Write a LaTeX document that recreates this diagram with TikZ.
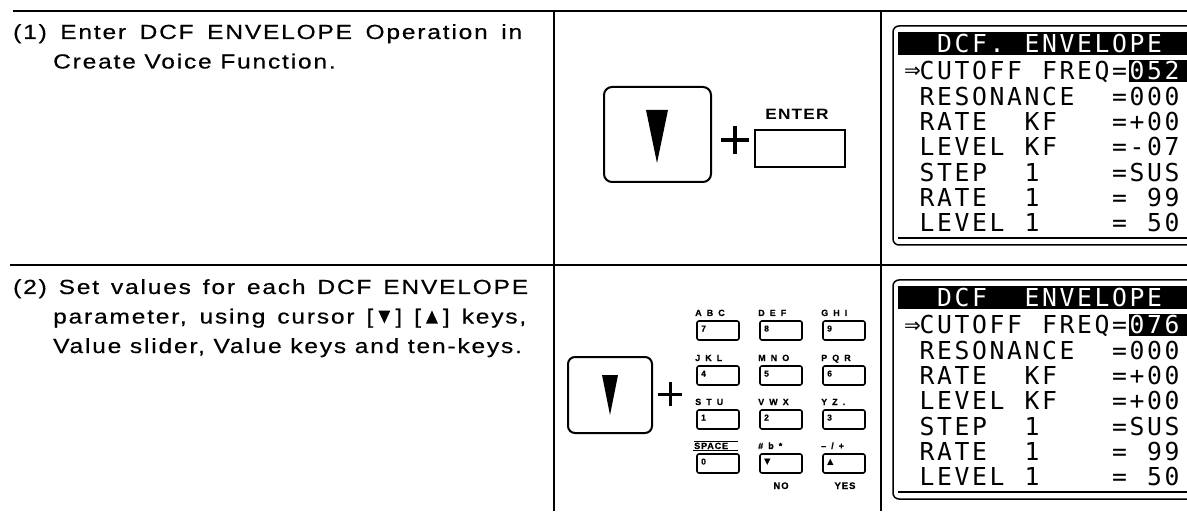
\documentclass[tikz,border=0pt]{standalone}
\usepackage{fontspec}
\setmainfont{Liberation Sans}
\newfontfamily\bodyfont[FakeStretch=1.2,LetterSpace=9,FakeBold=0.5]{Liberation Sans}
\newfontfamily\keyfont[FakeStretch=1.15,LetterSpace=8]{Liberation Sans}
\newfontfamily\labfont[LetterSpace=10,FakeBold=0.6]{Liberation Sans}
\newfontfamily\widelabfont[LetterSpace=28,FakeBold=0.6]{Liberation Sans}
\newfontfamily\lcdfont[LetterSpace=10.6]{DejaVu Sans Mono}
\newfontfamily\symfont{DejaVu Sans}
\tikzset{
  framehl/.style={line width=2pt},
  framevl/.style={line width=1.4pt},
  body/.style={anchor=base west, inner sep=0pt, font=\bodyfont\fontsize{20.4}{22}\selectfont},
  lcd/.style={anchor=base west, inner sep=0pt, font=\lcdfont\fontsize{24.7}{26}\selectfont},
  lcdinv/.style={lcd, text=white},
  lcdframe/.style={line width=1.5pt, rounded corners=6pt},
  bigkey/.style={line width=2pt, rounded corners=8pt},
  smallkey/.style={line width=1.6pt, rounded corners=2pt},
  klabel/.style={anchor=base west, inner sep=0pt, font=\widelabfont\bfseries\fontsize{9}{10}\selectfont},
  kdigit/.style={anchor=base west, inner sep=0pt, font=\labfont\bfseries\fontsize{8.5}{9}\selectfont},
  kfoot/.style={anchor=base, inner sep=0pt, font=\labfont\bfseries\fontsize{9.5}{10}\selectfont},
}
% inline solid triangles for the text
\newcommand\tridown{\hspace{5pt}\tikz[x=1pt,y=1pt,baseline=0pt]\fill (0,13) -- (12,13) -- (6,0) -- cycle;\hspace{5pt}}
\newcommand\triup{\hspace{5pt}\tikz[x=1pt,y=1pt,baseline=0pt]\fill (0,0) -- (12,0) -- (6,13) -- cycle;\hspace{5pt}}
% LCD word: style, name, column, baseline y, text
\newcommand\lcdword[5]{\node[#1] (#2) at ({902+#3*17.5},#4) {#5};}
% LCD screen: prefix, dy, title word, value, level kf value
\newcommand\lcdscreen[5]{%
  \draw[lcdframe] (893,{26+#2}) rectangle (1210,{245+#2});
  \fill (898,{32+#2}) rectangle (1190,{55+#2});
  \fill (1129,{60+#2}) rectangle (1190,{82+#2});
  \draw[line width=1.3pt] (898,{238+#2}) -- (1190,{238+#2});
  \lcdword{lcdinv}{#1t1}{2}{53+#2}{#3}
  \lcdword{lcdinv}{#1t2}{7}{53+#2}{ENVELOPE}
  \node[anchor=base west, inner sep=0pt, font=\symfont\fontsize{20}{22}\selectfont] (#1cur) at (904,{78+#2}) {⇒};
  \lcdword{lcd}{#1a1}{1}{80+#2}{CUTOFF}
  \lcdword{lcd}{#1a2}{8}{80+#2}{FREQ=}
  \lcdword{lcdinv}{#1a3}{13}{80+#2}{#4}
  \lcdword{lcd}{#1b1}{1}{105.3+#2}{RESONANCE}
  \lcdword{lcd}{#1b2}{12}{105.3+#2}{=000}
  \lcdword{lcd}{#1c1}{1}{130.6+#2}{RATE}
  \lcdword{lcd}{#1c2}{7}{130.6+#2}{KF}
  \lcdword{lcd}{#1c3}{12}{130.6+#2}{=+00}
  \lcdword{lcd}{#1d1}{1}{155.9+#2}{LEVEL}
  \lcdword{lcd}{#1d2}{7}{155.9+#2}{KF}
  \lcdword{lcd}{#1d3}{12}{155.9+#2}{#5}
  \lcdword{lcd}{#1e1}{1}{181.2+#2}{STEP}
  \lcdword{lcd}{#1e2}{7}{181.2+#2}{1}
  \lcdword{lcd}{#1e3}{12}{181.2+#2}{=SUS}
  \lcdword{lcd}{#1f1}{1}{206.5+#2}{RATE}
  \lcdword{lcd}{#1f2}{7}{206.5+#2}{1}
  \lcdword{lcd}{#1f3}{12}{206.5+#2}{=}
  \lcdword{lcd}{#1f4}{14}{206.5+#2}{99}
  \lcdword{lcd}{#1g1}{1}{231.8+#2}{LEVEL}
  \lcdword{lcd}{#1g2}{7}{231.8+#2}{1}
  \lcdword{lcd}{#1g3}{12}{231.8+#2}{=}
  \lcdword{lcd}{#1g4}{14}{231.8+#2}{50}
}
% keypad key: name, x, y top, label, content
\newcommand\padkey[5]{%
  \draw[smallkey] (#2,#3) rectangle ++(42,19);
  \node[klabel] (#1l) at ({#2-2},{#3-5}) {#4};
  \node[kdigit] (#1d) at ({#2+4},{#3+10.5}) {#5};
}
\begin{document}
\begin{tikzpicture}[x=1pt,y=-1pt]
\useasboundingbox (0,0) rectangle (1187,513);
\clip (0,0) rectangle (1187,513);
% frame
\coordinate (h1a) at (13,11);  \coordinate (h1b) at (1187,11);
\coordinate (h2a) at (10,265); \coordinate (h2b) at (1187,265);
\coordinate (v1a) at (554,11); \coordinate (v1b) at (554,511);
\coordinate (v2a) at (881,11); \coordinate (v2b) at (881,511);
\draw[framehl] (h1a) -- (h1b);
\draw[framehl] (h2a) -- (h2b);
\draw[framevl] (v1a) -- (v1b);
\draw[framevl] (v2a) -- (v2b);
% texts
\node[body] (s1a) at (13,39) {\makebox[509pt][s]{(1) Enter DCF ENVELOPE Operation in}};
\node[body] (s1b) at (53,68.5) {Create Voice Function.};
\node[body] (s2a) at (13,294) {\makebox[515pt][s]{(2) Set values for each DCF ENVELOPE}};
\node[body] (s2b) at (53,323.5) {\makebox[473pt][s]{parameter, using cursor [\tridown] [\triup] keys,}};
\node[body] (s2c) at (53,353) {Value slider, Value keys and ten-keys.};
% row 1 keys
\draw[bigkey] (604,87) rectangle (711,182);
\fill (646,110) -- (668,110) -- (657,163) -- cycle;
\draw[line width=3.5pt] (721,140) -- (749,140) (735,126) -- (735,154);
\draw[line width=2pt] (755,130) rectangle (845,167);
\node[anchor=base, inner sep=0pt, font=\keyfont\bfseries\fontsize{15}{16}\selectfont] (enter) at (797,120) {ENTER};
% row 2 keys
\draw[bigkey, rounded corners=7pt] (568,357) rectangle (652,433);
\fill (602,375) -- (618,375) -- (610,415) -- cycle;
\draw[line width=3pt] (658,394) -- (682,394) (670,382) -- (670,406);
\padkey{k7}{697}{321}{A B C}{7}
\padkey{k8}{760}{321}{D E F}{8}
\padkey{k9}{823}{321}{G H I}{9}
\padkey{k4}{697}{366}{J K L}{4}
\padkey{k5}{760}{366}{M N O}{5}
\padkey{k6}{823}{366}{P Q R}{6}
\padkey{k1}{697}{410}{S T U}{1}
\padkey{k2}{760}{410}{V W X}{2}
\padkey{k3}{823}{410}{Y Z .}{3}
\node[anchor=base west, inner sep=0pt, font=\labfont\bfseries\fontsize{9}{10}\selectfont] (spc) at (694,449) {SPACE};
\draw[smallkey] (697,454) rectangle ++(42,19);
\node[kdigit] (k0d) at (701,464.5) {0};
\padkey{kno}{760}{454}{\# b *}{{\symfont ▼}}
\padkey{kyes}{823}{454}{– / +}{{\symfont ▲}}
\draw[line width=0.9pt] (spc.north west) ++(0,-1) -- ++(44,0);
\draw[line width=1.6pt] (693,450.5) -- (738,450.5);
\node[kfoot] (no) at (781,489) {NO};
\node[kfoot] (yes) at (845,489) {YES};
% LCD screens
\lcdscreen{sa}{0}{DCF.}{052}{=-07}
\lcdscreen{sb}{254}{DCF}{076}{=+00}
\end{tikzpicture}
\end{document}
